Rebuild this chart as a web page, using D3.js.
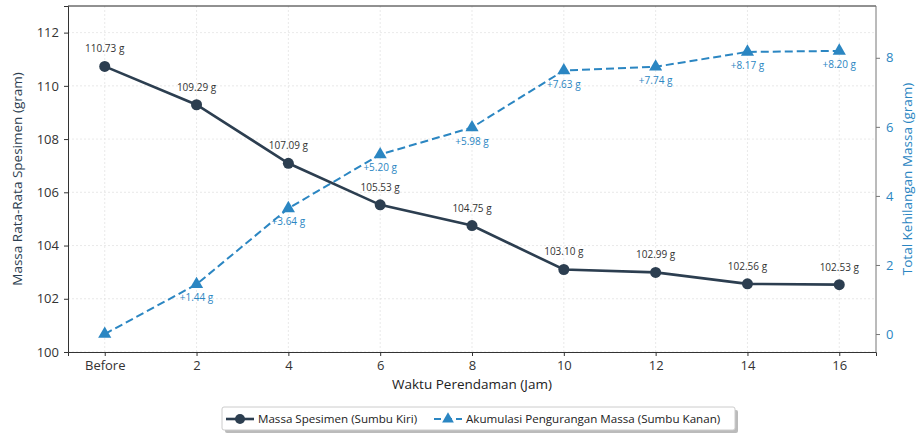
<!DOCTYPE html>
<html><head><meta charset="utf-8">
<script src="https://cdn.jsdelivr.net/npm/d3@7"></script>
<style>body{margin:0;background:#fff;} text{font-family:"Open Sans",Lato,sans-serif;}</style>
</head><body><svg id="c" width="917" height="434"></svg>
<script>
const categories = ["Before","2","4","6","8","10","12","14","16"];
const massValues = [110.73,109.29,107.09,105.53,104.75,103.10,102.99,102.56,102.53];
const lossValues = [0,1.44,3.64,5.20,5.98,7.63,7.74,8.17,8.20];
const leftTicks = [100,102,104,106,108,110,112];
const rightTicks = [0,2,4,6,8];

const svg = d3.select("#c");
const L=68,R=876,T=6,B=352;
const navy="#2c3e50", blue="#2b86c2";
const FONT='"Open Sans",Lato,sans-serif';
const x = d3.scaleLinear().domain([-0.4, categories.length-1+0.4]).range([L,R]);
const yL = d3.scaleLinear().domain([100,113]).range([B,T]);
const yR = d3.scaleLinear().domain([-0.52,9.5]).range([B,T]);

// grid
const g = svg.append("g");
g.selectAll(".gx").data(categories).enter().append("line")
 .attr("x1",(d,i)=>x(i)).attr("x2",(d,i)=>x(i)).attr("y1",T).attr("y2",B)
 .attr("stroke","#e3e3e3").attr("stroke-dasharray","2,2").attr("stroke-width",0.8);
g.selectAll(".gy").data(leftTicks).enter().append("line")
 .attr("x1",L).attr("x2",R).attr("y1",d=>yL(d)).attr("y2",d=>yL(d))
 .attr("stroke","#e3e3e3").attr("stroke-dasharray","2,2").attr("stroke-width",0.8);

// frame
svg.append("line").attr("x1",L).attr("x2",R).attr("y1",T).attr("y2",T).attr("stroke","#222").attr("stroke-width",1);
svg.append("line").attr("x1",R).attr("x2",R).attr("y1",T).attr("y2",B).attr("stroke","#777").attr("stroke-width",1);

// axes
const ax = svg.append("g").attr("transform",`translate(0,${B})`)
 .call(d3.axisBottom(x).tickValues(d3.range(categories.length)).tickFormat(i=>categories[i]).tickSize(4).tickPadding(5));
const ayl = svg.append("g").attr("transform",`translate(${L},0)`)
 .call(d3.axisLeft(yL).tickValues(leftTicks).tickSize(4).tickPadding(5));
const ayr = svg.append("g").attr("transform",`translate(${R},0)`)
 .call(d3.axisRight(yR).tickValues(rightTicks).tickSize(4).tickPadding(6));
[ax,ayl].forEach(a=>{a.select(".domain").attr("stroke","#333");a.selectAll(".tick line").attr("stroke","#333");
 a.selectAll(".tick text").attr("fill","#333").attr("font-size",13).style("font-family",FONT);});
ayr.select(".domain").remove();
ayr.selectAll(".tick line").attr("stroke","#777");
ayr.selectAll(".tick text").attr("fill",blue).attr("font-size",13).style("font-family",FONT);

// axis labels
svg.append("text").attr("x",(L+R)/2).attr("y",389).attr("text-anchor","middle").attr("font-size",13.5).attr("fill","#222").text("Waktu Perendaman (Jam)");
svg.append("text").attr("transform",`translate(22,${(T+B)/2}) rotate(-90)`).attr("text-anchor","middle").attr("font-size",13.5).attr("fill",navy).text("Massa Rata-Rata Spesimen (gram)");
svg.append("text").attr("transform",`translate(912,${(T+B)/2}) rotate(-90)`).attr("text-anchor","middle").attr("font-size",13.5).attr("fill",blue).text("Total Kehilangan Massa (gram)");

// loss line
const lineR = d3.line().x((d,i)=>x(i)).y(d=>yR(d));
svg.append("path").datum(lossValues).attr("d",lineR).attr("fill","none").attr("stroke",blue).attr("stroke-width",2).attr("stroke-dasharray","8,4");
svg.selectAll(".tri").data(lossValues).enter().append("path")
 .attr("d",d3.symbol().type(d3.symbolTriangle).size(75))
 .attr("transform",(d,i)=>`translate(${x(i)},${yR(d)})`).attr("fill",blue);
svg.selectAll(".tl").data(lossValues).enter().filter(d=>d>0).append("text")
 .attr("x",(d,i)=>x(i+1)).attr("y",d=>yR(d)+17).attr("text-anchor","middle").attr("font-size",10).attr("fill",blue)
 .text(d=>"+"+d.toFixed(2)+" g");

// mass line
const lineL = d3.line().x((d,i)=>x(i)).y(d=>yL(d));
svg.append("path").datum(massValues).attr("d",lineL).attr("fill","none").attr("stroke",navy).attr("stroke-width",2.6);
svg.selectAll(".dot").data(massValues).enter().append("circle")
 .attr("cx",(d,i)=>x(i)).attr("cy",d=>yL(d)).attr("r",5.5).attr("fill",navy);
svg.selectAll(".ml").data(massValues).enter().append("text")
 .attr("x",(d,i)=>x(i)).attr("y",d=>yL(d)-14).attr("text-anchor","middle").attr("font-size",10).attr("fill","#333")
 .text(d=>d.toFixed(2)+" g");

// legend
const lg = svg.append("g");
lg.append("rect").attr("x",225).attr("y",410).attr("width",513).attr("height",23).attr("fill","#bbb").attr("rx",2);
lg.append("rect").attr("x",222).attr("y",407).attr("width",513).attr("height",23).attr("fill","#fff").attr("stroke","#ccc").attr("rx",2);
lg.append("line").attr("x1",226).attr("x2",254).attr("y1",419).attr("y2",419).attr("stroke",navy).attr("stroke-width",2.6);
lg.append("circle").attr("cx",240).attr("cy",419).attr("r",5).attr("fill",navy);
lg.append("text").attr("x",258).attr("y",423).attr("font-size",11.6).attr("fill","#222").text("Massa Spesimen (Sumbu Kiri)");
lg.append("line").attr("x1",434).attr("x2",462).attr("y1",419).attr("y2",419).attr("stroke",blue).attr("stroke-width",2).attr("stroke-dasharray","7,4");
lg.append("path").attr("d",d3.symbol().type(d3.symbolTriangle).size(60)).attr("transform","translate(448,419)").attr("fill",blue);
lg.append("text").attr("x",466).attr("y",423).attr("font-size",11.6).attr("fill","#222").text("Akumulasi Pengurangan Massa (Sumbu Kanan)");
</script></body></html>
